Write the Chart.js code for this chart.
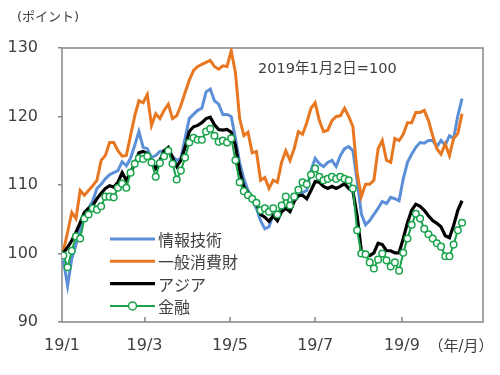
<!DOCTYPE html>
<html lang="ja">
<head>
<meta charset="utf-8">
<script src="https://cdn.jsdelivr.net/npm/chart.js@4.4.1/dist/chart.umd.min.js"></script>
<style>
  html, body { margin: 0; padding: 0; background: #fff; }
  #wrap { width: 500px; height: 375px; }
</style>
</head>
<body>
<div id="wrap"><canvas id="myChart" width="500" height="375"></canvas></div>
<script>
// days counted from 2019/1/1
const dayOfYear = [1,4,7,10,13,16,19,22,25,28,31,34,37,40,43,46,49,52,55,58,61,64,67,70,73,76,79,82,85,88,91,94,97,100,103,106,109,112,115,118,121,124,127,130,133,136,139,142,145,148,151,154,157,160,163,166,169,172,175,178,181,184,187,190,193,196,199,202,205,208,211,214,217,220,223,226,229,232,235,238,241,244,247,250,253,256,259,262,265,268,271,274,277,280,283,286];

const itValues = [99.0,95.3,99.3,101.3,103.6,105.7,106.6,107.7,109.5,110.1,
  110.9,111.5,111.8,112.1,113.4,112.8,113.9,115.8,117.8,115.5,
  115.3,114.0,114.3,114.9,115.0,114.9,114.2,113.6,113.9,116.8,
  119.7,120.3,120.9,121.2,123.6,124.0,122.3,121.8,120.3,120.3,
  120.0,116.8,113.3,110.9,109.2,107.9,106.6,104.8,103.6,103.9,
  105.7,105.1,106.3,106.6,106.3,107.7,108.3,108.9,109.2,112.1,
  113.9,113.1,112.7,113.3,113.6,112.7,114.3,115.3,115.6,115.0,
  110.7,105.8,104.2,104.8,105.7,106.6,107.6,107.3,108.2,108.0,
  107.7,110.9,113.3,114.5,115.5,116.2,116.1,116.5,116.5,115.6,
  116.5,115.8,117.2,116.8,120.1,122.6];

const consumerValues = [100.4,103.1,106.0,105.1,109.2,108.5,109.2,109.9,110.7,113.6,
  114.3,116.2,116.2,115.0,114.2,114.3,117.2,120.1,122.3,122.0,
  123.2,118.7,120.4,119.7,120.9,121.8,119.7,120.1,121.6,123.5,
  125.3,126.7,127.3,127.6,127.9,128.2,127.3,126.9,127.4,127.3,
  129.6,126.4,119.7,117.2,117.7,114.7,114.9,110.7,111.1,109.5,
  110.7,110.4,113.3,115.0,113.6,115.3,117.8,117.4,119.1,121.2,
  122.0,119.4,117.8,118.0,119.4,120.0,120.1,121.2,120.0,118.5,
  111.8,108.3,110.1,110.1,110.7,115.3,116.5,113.6,113.3,116.8,
  116.5,117.4,119.1,119.1,120.6,120.6,120.9,119.4,117.2,115.3,
  114.5,116.0,114.3,116.8,117.5,120.4];

const asiaValues = [100.1,100.9,101.9,103.1,104.5,106.0,106.6,107.0,108.0,108.8,
  109.5,109.9,109.7,110.4,111.8,110.7,111.8,113.1,114.7,114.9,
  114.6,113.3,112.4,113.6,115.0,115.5,114.0,112.7,113.6,115.5,
  117.8,118.5,118.7,119.1,119.7,119.9,118.8,118.1,118.0,118.1,
  117.7,115.8,112.1,109.8,108.9,108.3,107.4,105.7,105.3,104.7,
  105.5,104.8,106.1,106.6,106.1,107.6,108.5,108.5,108.0,109.2,
  110.5,110.4,109.8,109.5,109.8,109.5,109.8,110.2,109.5,109.1,
  105.5,100.4,99.7,99.7,100.1,101.5,101.3,100.4,100.4,100.1,
  100.1,102.2,104.5,106.3,107.2,106.9,106.3,105.5,104.8,104.4,
  103.9,102.6,102.3,104.1,106.3,107.7];

const financeValues = [99.7,98.0,100.4,102.5,102.2,105.1,105.7,106.6,106.4,106.9,
  108.3,108.3,108.2,109.6,110.2,109.6,111.8,113.1,113.9,113.8,
  114.2,113.3,111.2,113.2,114.2,115.0,113.1,110.8,112.1,114.0,
  116.2,116.9,116.6,116.6,117.8,118.2,117.2,116.3,116.5,116.2,
  116.8,113.6,110.4,109.1,108.5,108.0,107.4,106.3,106.6,106.1,
  106.6,105.7,107.0,108.3,107.0,108.3,109.3,110.4,110.1,111.5,
  112.4,111.2,110.7,110.9,111.2,110.9,111.2,110.9,110.7,109.5,
  103.4,100.0,99.9,98.7,97.8,99.1,100.0,99.0,98.1,98.7,
  97.5,100.1,102.2,104.2,105.8,105.1,103.6,102.8,102.2,101.5,
  101.0,99.6,99.6,101.3,103.4,104.5];

const tickDays = [0, 59, 120, 181, 243];
const tickLabels = ['19/1', '19/3', '19/5', '19/7', '19/9'];

const toXY = vals => dayOfYear.map((d, i) => ({ x: d, y: vals[i] }));

const textColor = '#404040';
const frameColor = '#868686';
Chart.defaults.font.family = "'DejaVu Sans', 'Noto Sans CJK JP', sans-serif";

const decor = {
    id: 'decor',
    beforeDatasetsDraw(chart) {
        const { ctx, chartArea: a } = chart;
        const x = chart.scales.x;
        ctx.save();
        ctx.strokeStyle = frameColor;
        ctx.lineWidth = 1.5;
        ctx.strokeRect(a.left, a.top, a.right - a.left, a.bottom - a.top);
        tickDays.forEach(d => {
            if (d === 0) return;
            const px = Math.round(x.getPixelForValue(d));
            ctx.beginPath();
            ctx.moveTo(px, a.bottom);
            ctx.lineTo(px, a.bottom - 5);
            ctx.stroke();
        });
        ctx.restore();
    },
    afterDraw(chart) {
        const ctx = chart.ctx;
        ctx.save();
        ctx.fillStyle = textColor;
        ctx.textBaseline = 'middle';

        ctx.font = "13px 'DejaVu Sans', 'Noto Sans CJK JP'";
        ctx.textAlign = 'center';
        ctx.fillText('(ポイント)', 48, 18);

        ctx.font = "14.5px 'DejaVu Sans', 'Noto Sans CJK JP'";
        ctx.textAlign = 'left';
        ctx.fillText('2019年1月2日=100', 258, 69);

        ctx.font = "15px 'DejaVu Sans', 'Noto Sans CJK JP'";
        ctx.textAlign = 'center';
        ctx.fillText('（年/月）', 461, 347);

        // legend
        ctx.font = "16px 'Noto Sans CJK JP'";
        ctx.textAlign = 'left';
        chart.data.datasets.forEach((ds, i) => {
            const y = 239 + i * 22.3;
            ctx.strokeStyle = ds.borderColor;
            ctx.lineWidth = ds.borderWidth;
            ctx.beginPath();
            ctx.moveTo(110, y);
            ctx.lineTo(155, y);
            ctx.stroke();
            if (ds.pointRadius > 0) {
                ctx.beginPath();
                ctx.arc(132.5, y, 4, 0, Math.PI * 2);
                ctx.fillStyle = '#fff';
                ctx.fill();
                ctx.lineWidth = ds.pointBorderWidth;
                ctx.stroke();
            }
            ctx.fillStyle = textColor;
            ctx.fillText(ds.label, 158, y + 1);
        });
        ctx.restore();
    }
};

new Chart(document.getElementById('myChart'), {
    type: 'line',
    data: {
        datasets: [
            {
                label: '情報技術',
                data: toXY(itValues),
                borderColor: '#5B8FD8',
                borderWidth: 3,
                pointRadius: 0,
                order: 4,
            },
            {
                label: '一般消費財',
                data: toXY(consumerValues),
                borderColor: '#E87722',
                borderWidth: 3,
                pointRadius: 0,
                order: 3,
            },
            {
                label: 'アジア',
                data: toXY(asiaValues),
                borderColor: '#000000',
                borderWidth: 3.2,
                pointRadius: 0,
                order: 2,
            },
            {
                label: '金融',
                data: toXY(financeValues),
                borderColor: '#19A44C',
                borderWidth: 2,
                pointRadius: 3.3,
                pointBackgroundColor: '#ffffff',
                pointBorderColor: '#19A44C',
                pointBorderWidth: 1.5,
                order: 1,
            }
        ],
    },
    options: {
        responsive: false,
        devicePixelRatio: 1,
        animation: false,
        layout: { padding: { top: 48, right: 17, left: 0, bottom: 0 } },
        plugins: {
            legend: { display: false },
            tooltip: { enabled: false },
        },
        scales: {
            x: {
                type: 'linear',
                min: 0,
                max: 301,
                afterBuildTicks: s => { s.ticks = tickDays.map(v => ({ value: v })); },
                ticks: {
                    autoSkip: false,
                    maxRotation: 0,
                    color: textColor,
                    font: { size: 16 },
                    padding: 14,
                    callback: (v, i) => tickLabels[i],
                },
                grid: { display: false, drawTicks: false },
                border: { display: false },
                afterFit: s => { s.height = 53; },
            },
            y: {
                min: 90,
                max: 130,
                ticks: {
                    stepSize: 10,
                    color: textColor,
                    font: { size: 16 },
                    padding: 20,
                },
                grid: { drawOnChartArea: false, tickLength: 4, color: frameColor, lineWidth: 1.5 },
                border: { display: false },
                afterFit: s => { s.width = 62; },
            }
        }
    },
    plugins: [decor]
});
</script>
</body>
</html>
